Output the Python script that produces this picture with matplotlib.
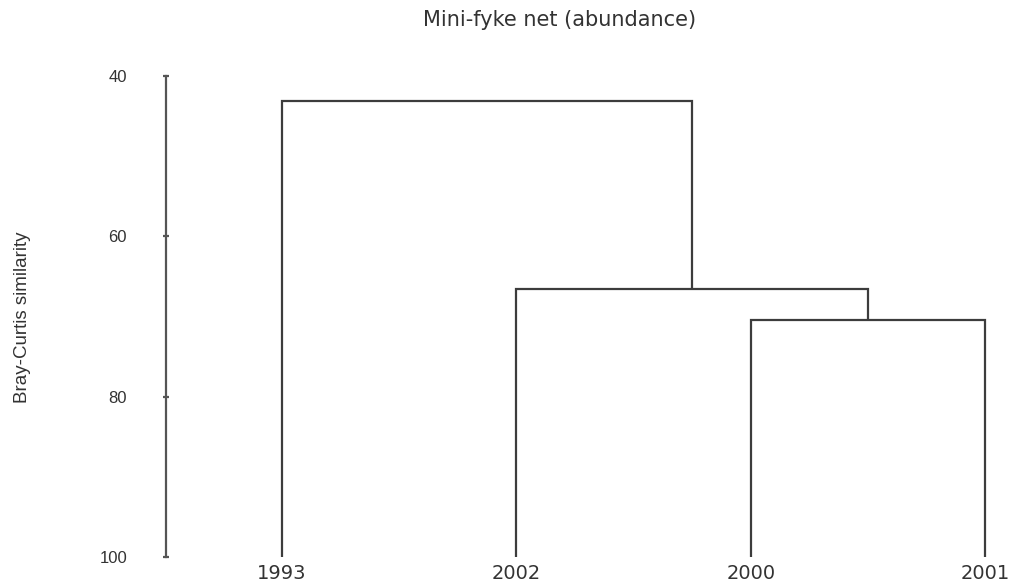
import matplotlib
matplotlib.use("Agg")
import matplotlib.pyplot as plt

# Data
leaf_labels = ["1993", "2002", "2000", "2001"]
# merges: (cluster a, cluster b, similarity); new cluster ids start at len(leaf_labels)
merge_a = [2, 1, 0]
merge_b = [3, 4, 5]
merge_sim = [70.4, 66.6, 43.2]
yticks = [40, 60, 80, 100]

title = "Mini-fyke net (abundance)"
ylabel = "Bray-Curtis similarity"

line_color = "#3c3c3c"
text_color = "#333333"
plt.rcParams["font.family"] = ["Liberation Sans", "DejaVu Sans"]

fig = plt.figure(figsize=(10.18, 5.86), dpi=100)
W, H = 1018, 586
left_px, right_px = 166, 997
top_px, bot_px = 75.7, 557
ax = fig.add_axes([left_px / W, (H - bot_px) / H, (right_px - left_px) / W, (bot_px - top_px) / H])

xs = {i: float(i) for i in range(len(leaf_labels))}
ys = {i: 100.0 for i in range(len(leaf_labels))}
nid = len(leaf_labels)
for a, b, h in zip(merge_a, merge_b, merge_sim):
    ax.plot([xs[a], xs[a], xs[b], xs[b]], [ys[a], h, h, ys[b]],
            color=line_color, lw=1.6, solid_joinstyle="miter", solid_capstyle="butt")
    xs[nid] = (xs[a] + xs[b]) / 2
    ys[nid] = h
    nid += 1

ax.set_xlim(-0.495, 3.05)
ax.set_ylim(100, 40)

for s in ["top", "right", "bottom"]:
    ax.spines[s].set_visible(False)
ax.spines["left"].set_color("#555555")
ax.spines["left"].set_linewidth(1.6)

ax.set_yticks(yticks)
ax.set_yticklabels([str(v) for v in yticks])
ax.tick_params(axis="y", direction="inout", length=4, width=1.6, color="#555555",
               pad=26, labelsize=12, labelcolor=text_color)

ax.set_xticks(range(len(leaf_labels)))
ax.set_xticklabels(leaf_labels, family="DejaVu Sans")
ax.tick_params(axis="x", length=0, pad=5, labelsize=14, labelcolor=text_color)

fig.text(23 / W, 1 - 317 / H, ylabel, rotation=90, ha="center", va="center",
         fontsize=13.5, color=text_color)
fig.text(560 / W, 1 - 26 / H, title, ha="center", va="baseline", fontsize=15,
         color=text_color, family="DejaVu Sans")

fig.savefig("out.png", dpi=100)
